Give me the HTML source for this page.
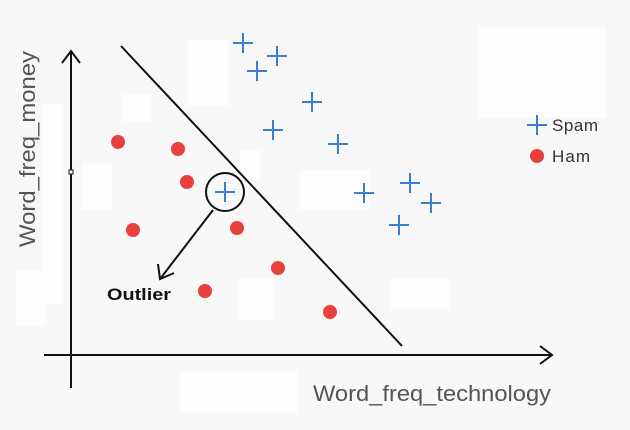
<!DOCTYPE html>
<html><head><style>body{margin:0;background:#f8f8f8}svg{display:block}</style></head><body>
<svg width="630" height="430" viewBox="0 0 630 430" xmlns="http://www.w3.org/2000/svg">
<rect width="630" height="430" fill="#f8f8f8"/>
<g fill="#fdfdfd">
<rect x="188" y="40" width="40" height="66"/><rect x="123" y="94" width="28" height="28"/>
<rect x="82" y="164" width="30" height="46"/><rect x="43" y="104" width="20" height="200"/>
<rect x="478" y="28" width="128" height="90"/><rect x="240" y="150" width="20" height="30"/>
<rect x="300" y="170" width="70" height="40"/><rect x="180" y="372" width="118" height="40"/>
<rect x="16" y="270" width="30" height="55"/><rect x="238" y="278" width="36" height="42"/>
<rect x="390" y="278" width="60" height="30"/>
</g>
<g stroke="#111" stroke-width="2" fill="none">
<line x1="71" y1="388" x2="71" y2="51"/><polyline points="62,63 71,51 80,63"/>
<line x1="44" y1="355" x2="552" y2="355"/><polyline points="540,346 552,355 540,364"/>
<line x1="121" y1="46" x2="402" y2="346"/>
<circle cx="225" cy="192" r="19"/>
<line x1="213" y1="210" x2="160" y2="279"/><polyline points="158,264 160,279 174,273"/>
</g>
<rect x="69" y="170" width="4" height="4" fill="#fff" stroke="#111" stroke-width="1"/>
<g stroke="#3a7fd5" stroke-width="2">
<path d="M233 43h20M243 33v20 M267 56h20M277 46v20 M247 71h20M257 61v20 M302 102h20M312 92v20 M263 130h20M273 120v20 M328 144h20M338 134v20 M354 193h20M364 183v20 M400 183h20M410 173v20 M421 203h20M431 193v20 M389 225h20M399 215v20 M215 192h20M225 182v20 M527 125h20M537 115v20"/>
</g>
<g fill="#e8403d">
<circle cx="118" cy="142" r="7"/><circle cx="178" cy="149" r="7"/><circle cx="187" cy="182" r="7"/>
<circle cx="133" cy="230" r="7"/><circle cx="237" cy="228" r="7"/><circle cx="278" cy="268" r="7"/>
<circle cx="205" cy="291" r="7"/><circle cx="330" cy="312" r="7"/><circle cx="537" cy="156" r="7"/>
</g>
<g font-family="Liberation Sans, sans-serif" fill="#555">
<text x="552" y="131" font-size="17" fill="#333" textLength="46">Spam</text>
<text x="552" y="162" font-size="17" fill="#333" textLength="38">Ham</text>
<text x="107" y="300" font-size="17" font-weight="bold" fill="#111" textLength="64" lengthAdjust="spacingAndGlyphs">Outlier</text>
<text x="313" y="401" font-size="22" textLength="238" lengthAdjust="spacingAndGlyphs">Word_freq_technology</text>
<text transform="translate(35,247) rotate(-90)" font-size="22" textLength="196" lengthAdjust="spacingAndGlyphs">Word_freq_money</text>
</g>
</svg>
</body></html>
